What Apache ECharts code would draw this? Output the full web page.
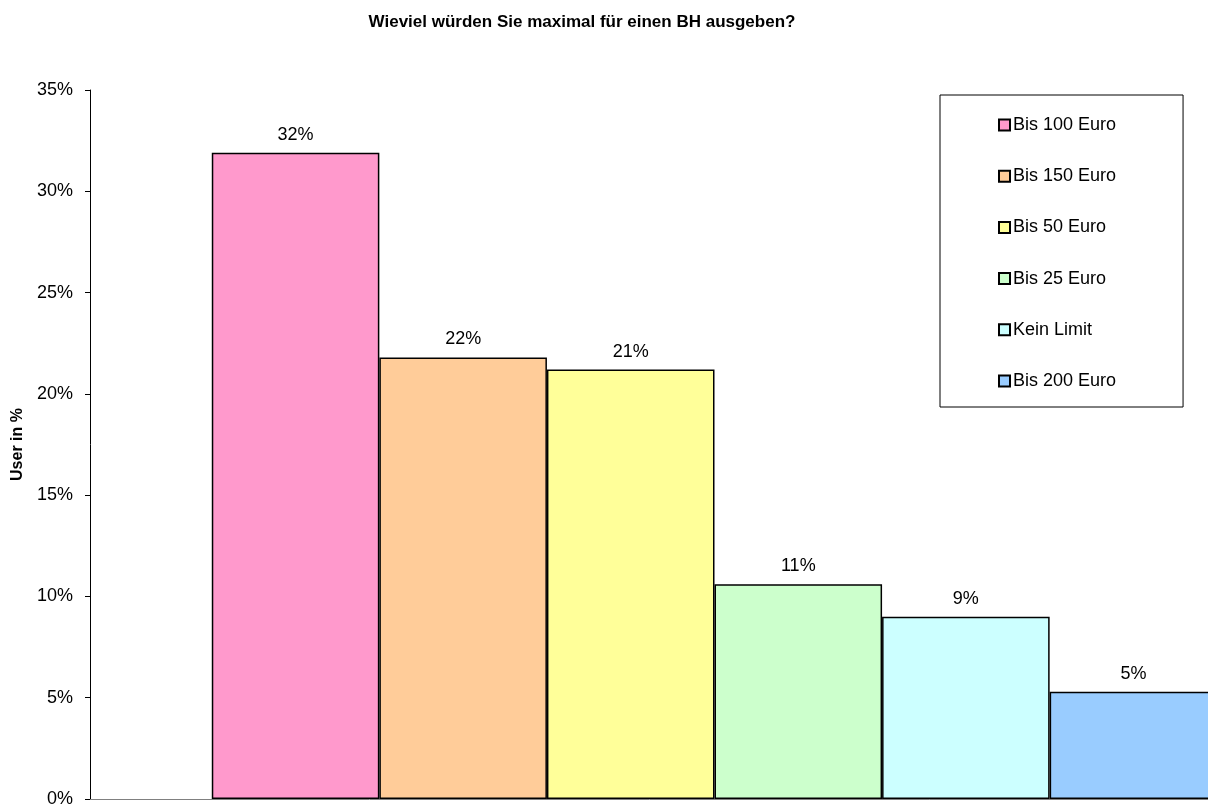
<!DOCTYPE html>
<html><head><meta charset="utf-8">
<script src="https://cdn.jsdelivr.net/npm/echarts@6/dist/echarts.min.js"></script>
<style>html,body{margin:0;padding:0;background:#fff}#c{width:1208px;height:808px}</style>
</head><body><div id="c"></div>
<script>
const seriesNames = ['Bis 100 Euro','Bis 150 Euro','Bis 50 Euro','Bis 25 Euro','Kein Limit','Bis 200 Euro'];
const seriesValues = [31.9, 21.8, 21.2, 10.6, 9.0, 5.3];
const seriesColors = ['#FF99CC','#FFCC99','#FFFF99','#CCFFCC','#CCFFFF','#99CCFF'];
const categories = [''];
const yTicks = {min: 0, max: 35, interval: 5};

const font = 'Liberation Sans, Arial, sans-serif';
const chart = echarts.init(document.getElementById('c'));
chart.setOption({
  animation: false,
  backgroundColor: '#fff',
  title: {text: 'Wieviel würden Sie maximal für einen BH ausgeben?', left: 577, textAlign: 'center', top: 9,
    textStyle: {fontFamily: font, fontWeight: 'bold', fontSize: 17, color: '#000'}},
  legend: {
    orient: 'vertical', left: 940, top: 95,
    padding: [21, 67, 17, 58], itemGap: 33.2,
    borderColor: '#000', borderWidth: 1,
    itemWidth: 11, itemHeight: 11, icon: 'rect',
    textStyle: {fontFamily: font, fontSize: 18, color: '#000', padding: [0,0,0,-2]},
    data: seriesNames
  },
  grid: {left: 90, top: 90, bottom: 9, right: -131, outerBoundsMode: 'none', containLabel: false},
  xAxis: {type: 'category', data: categories,
    axisLine: {lineStyle: {color: '#808080', width: 1}}, axisTick: {show: false}, axisLabel: {show: false}},
  yAxis: {type: 'value', min: yTicks.min, max: yTicks.max, interval: yTicks.interval,
    name: 'User in %', nameLocation: 'middle', nameGap: 64,
    nameTextStyle: {fontFamily: font, fontWeight: 'bold', fontSize: 16, color: '#000'},
    axisLine: {show: true, lineStyle: {color: '#000', width: 1}},
    axisTick: {show: true, length: 5, lineStyle: {color: '#000'}},
    splitLine: {show: false},
    axisLabel: {formatter: '{value}%', fontFamily: font, fontSize: 18, color: '#000', margin: 17}},
  series: seriesNames.map((n, i) => ({
    name: n, type: 'bar', barGap: '0%', barCategoryGap: '19.5%',
    data: [seriesValues[i]],
    itemStyle: {color: seriesColors[i], borderColor: '#000', borderWidth: 1.5},
    label: {show: true, position: 'top', distance: 9, formatter: p => Math.round(p.value) + '%',
      fontFamily: font, fontSize: 18, color: '#000'}
  }))
});
</script></body></html>
